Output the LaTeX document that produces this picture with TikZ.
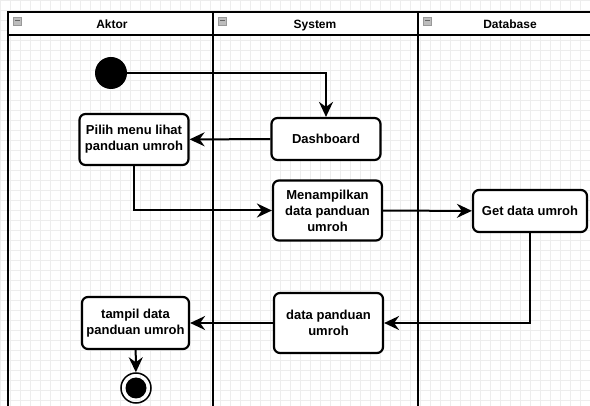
\documentclass[tikz,border=0pt]{standalone}
\usepackage{fontspec}
\setmainfont{Liberation Sans}
\usetikzlibrary{arrows.meta, calc}
\definecolor{gridgray}{rgb}{0.93,0.93,0.93}
\definecolor{iconfill}{rgb}{0.74,0.74,0.74}

\begin{document}
\begin{tikzpicture}[x=1pt, y=-1pt,
	action/.style={draw, line width=2.2pt, rounded corners=6pt, fill=white, align=center, inner sep=1pt, font=\fontsize{13}{16}\selectfont\bfseries},
	lanehead/.style={anchor=base, font=\fontsize{12}{14}\selectfont\bfseries},
	icon/.style={draw=gray!80, fill=iconfill, line width=0.6pt, minimum size=8pt, inner sep=0pt, path picture={\draw[black!60, line width=1pt] ($(path picture bounding box.west)+(1.5pt,0)$) -- ($(path picture bounding box.east)+(-1.5pt,0)$);}},
	flow/.style={-{Stealth[length=15pt, width=14pt, inset=5pt]}, line width=2pt},
	lane/.style={line width=2.6pt}]
	\useasboundingbox (0,0) rectangle (590,406);
	% grid
	\foreach \gx in {0,10,...,590}
		\draw[gridgray, line width=0.5pt] (\gx,0) -- (\gx,406);
	\foreach \gy in {0,10,...,400}
		\draw[gridgray, line width=0.5pt] (0,\gy) -- (590,\gy);

	% swimlanes
	\fill[white] (8,12) rectangle (596,35);
	\draw[lane] (596,12) -- (8,12) -- (8,412);
	\draw[lane] (8,35) -- (596,35);
	\draw[lane] (213,12) -- (213,412);
	\draw[lane] (418,12) -- (418,412);

	\node[icon] (iAktor) at (17.5,21) {};
	\node[icon] (iSystem) at (222.5,21) {};
	\node[icon] (iDatabase) at (427.5,21) {};
	\node[lanehead] (hAktor) at (112,28.5) {Aktor};
	\node[lanehead] (hSystem) at (315,28.5) {System};
	\node[lanehead] (hDatabase) at (510,28.5) {Database};

	% activities
	\node[circle, fill=black, minimum size=32pt, inner sep=0pt] (start) at (111,73) {};
	\node[action, minimum width=109pt, minimum height=42pt] (dash) at (326,139) {Dashboard};
	\node[action, minimum width=109pt, minimum height=51pt] (pilih) at (134,139.5) {Pilih menu lihat\\panduan umroh};
	\node[action, minimum width=109pt, minimum height=60pt] (tampilkan) at (327.5,210.5) {Menampilkan\\data panduan\\umroh};
	\node[action, minimum width=114pt, minimum height=42pt] (getdata) at (530,211) {Get data umroh};
	\node[action, minimum width=109pt, minimum height=60pt] (datapanduan) at (328.5,323) {data panduan\\umroh};
	\node[action, minimum width=107pt, minimum height=52pt] (tampil) at (135.5,323) {tampil data\\panduan umroh};
	\node[circle, draw, line width=1.5pt, minimum size=30pt, inner sep=0pt, path picture={\fill (path picture bounding box.center) circle (10.5pt);}] (end) at (136,388) {};

	\draw[flow] (start) -| (dash);
	\draw[flow] (dash) -- (pilih);
	\draw[flow] (pilih) |- (tampilkan);
	\draw[flow] (tampilkan) -- (getdata);
	\draw[flow] (getdata) |- (datapanduan);
	\draw[flow] (datapanduan) -- (tampil);
	\draw[flow] (tampil) -- (end);
\end{tikzpicture}
\end{document}
